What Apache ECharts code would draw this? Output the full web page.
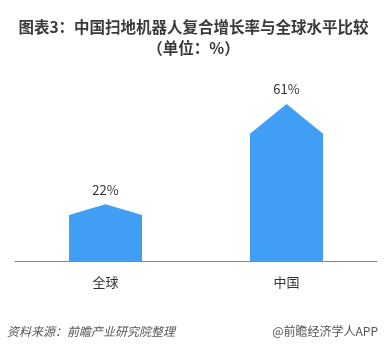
<!DOCTYPE html>
<html><head><meta charset="utf-8">
<script src="https://cdn.jsdelivr.net/npm/echarts@6/dist/echarts.min.js"></script>
<style>html,body{margin:0;padding:0;background:#fff}#c{width:387px;height:348px}</style>
</head><body><div id="c"></div>
<script>
const categories = ['全球', '中国'];
const values = [22, 61];
const titleLines = ['图表3：中国扫地机器人复合增长率与全球水平比较', '（单位：%）'];
const sourceText = '资料来源：前瞻产业研究院整理';
const brandText = '@前瞻经济学人APP';

const chart = echarts.init(document.getElementById('c'), null, {renderer: 'canvas'});
const font = '"Microsoft YaHei","Noto Sans CJK SC",sans-serif';
chart.setOption({
  backgroundColor: '#fff',
  animation: false,
  title: {
    text: titleLines.join('\n'),
    left: 'center', top: 12,
    textStyle: {fontFamily: font, fontSize: 15.5, fontWeight: 'bold', color: '#3a3a3a', lineHeight: 21}
  },
  grid: {left: 15, right: 10, top: 55, bottom: 87},
  xAxis: {
    type: 'category', data: categories,
    axisLine: {lineStyle: {color: '#888', width: 1}},
    axisTick: {show: false},
    axisLabel: {fontFamily: font, fontSize: 13, color: '#333', margin: 15}
  },
  yAxis: {type: 'value', min: 0, max: 80, show: false, splitLine: {show: false}},
  series: [{
    type: 'pictorialBar',
    data: values,
    barWidth: 73,
    symbol: 'path://M0,19 L50,0 L100,19 L100,100 L0,100 Z',
    symbolSize: [73, '100%'],
    itemStyle: {color: '#419ef5'},
    label: {show: true, position: 'top', distance: 8, formatter: '{c}%', fontFamily: font, fontSize: 13, color: '#333'}
  }],
  graphic: [
    {type: 'text', left: 7, top: 325, style: {text: sourceText, font: 'italic 12px ' + font, fill: '#555'}},
    {type: 'text', right: 9, top: 325, style: {text: brandText, font: '12px ' + font, fill: '#555'}}
  ]
});
</script></body></html>
